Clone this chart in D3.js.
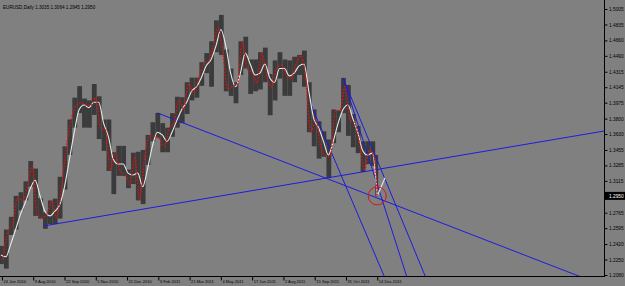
<!DOCTYPE html>
<html>
<head>
<meta charset="utf-8">
<script src="https://cdn.jsdelivr.net/npm/d3@7/dist/d3.min.js"></script>
<style>
  html, body { margin: 0; padding: 0; background: #808080; }
  svg { display: block; }
  text { font-family: "Liberation Sans", Arial, sans-serif; }
</style>
</head>
<body>
<svg id="chart" width="625" height="286"></svg>
<script>
// weekly bars, Jun 21 2010 .. Dec 14 2011 (day 0 = 22 Jun 2010)
const weekHigh = [1.2400,1.2580,1.2720,1.2950,1.2990,1.3110,1.3333,1.3250,1.2925,1.2770,
  1.2900,1.2920,1.3160,1.3495,1.3790,1.4030,1.4157,1.4020,1.4000,1.4180,
  1.4045,1.3790,1.3790,1.3430,1.3500,1.3500,1.3240,1.3425,1.3435,1.3455,
  1.3620,1.3760,1.3862,1.3750,1.3700,1.3860,1.4040,1.4035,1.4200,1.4250,
  1.4250,1.4420,1.4520,1.4650,1.4880,1.4940,1.4560,1.4350,1.4200,1.4650,
  1.4700,1.4450,1.4450,1.4530,1.4580,1.4290,1.4440,1.4530,1.4450,1.4440,
  1.4480,1.4500,1.4548,1.4200,1.3900,1.3770,1.3660,1.3570,1.3900,1.3890,
  1.4247,1.4170,1.3850,1.3720,1.3550,1.3550,1.3550,1.3400];
const weekLow = [1.2200,1.2150,1.2520,1.2580,1.2790,1.2900,1.3050,1.2730,1.2700,1.2588,
  1.2640,1.2640,1.2700,1.3020,1.3400,1.3700,1.3860,1.3700,1.3700,1.3840,
  1.3575,1.3445,1.3225,1.2969,1.3170,1.3170,1.3035,1.3080,1.2900,1.2860,
  1.3290,1.3550,1.3590,1.3430,1.3430,1.3600,1.3700,1.3750,1.3850,1.4000,
  1.4030,1.4160,1.4300,1.4150,1.4530,1.4500,1.4100,1.4050,1.3968,1.4280,
  1.4350,1.4071,1.4100,1.4120,1.4200,1.3837,1.4000,1.4240,1.4050,1.4050,
  1.4200,1.4280,1.4150,1.3650,1.3495,1.3360,1.3380,1.3146,1.3530,1.3650,
  1.3860,1.3610,1.3485,1.3420,1.3213,1.3300,1.3280,1.2945];
const weekClose = [1.2250,1.2560,1.2640,1.2930,1.2900,1.3050,1.3280,1.2750,1.2710,1.2750,
  1.2890,1.2710,1.3050,1.3490,1.3790,1.3950,1.3975,1.3950,1.3945,1.4030,
  1.3690,1.3670,1.3240,1.3420,1.3220,1.3185,1.3080,1.3380,1.2905,1.3380,
  1.3610,1.3610,1.3580,1.3495,1.3690,1.3750,1.4000,1.3905,1.4180,1.4085,
  1.4230,1.4400,1.4430,1.4590,1.4800,1.4530,1.4120,1.4155,1.4180,1.4640,
  1.4350,1.4300,1.4190,1.4520,1.4260,1.4150,1.4360,1.4390,1.4280,1.4235,
  1.4400,1.4490,1.4210,1.3650,1.3790,1.3500,1.3390,1.3380,1.3880,1.3890,
  1.4150,1.3790,1.3750,1.3520,1.3240,1.3450,1.3380,1.2950];
const whiteMA = [1.2300,1.2280,1.2420,1.2580,1.2750,1.2880,1.3030,1.3120,1.2950,1.2780,
  1.2730,1.2780,1.2850,1.3050,1.3350,1.3650,1.3900,1.3950,1.3920,1.3980,
  1.3980,1.3750,1.3600,1.3350,1.3300,1.3300,1.3200,1.3180,1.3200,1.3050,
  1.3250,1.3500,1.3650,1.3620,1.3550,1.3650,1.3780,1.3900,1.3980,1.4100,
  1.4150,1.4250,1.4380,1.4450,1.4600,1.4780,1.4600,1.4300,1.4150,1.4300,
  1.4520,1.4400,1.4280,1.4300,1.4400,1.4250,1.4200,1.4350,1.4350,1.4270,
  1.4300,1.4380,1.4400,1.4100,1.3800,1.3700,1.3550,1.3400,1.3550,1.3750,
  1.3900,1.3950,1.3800,1.3650,1.3450,1.3400,1.3420,1.2950];
const whiteEnd = [394, 1.3150];

const priceTicks = [1.5005,1.4835,1.4660,1.4490,1.4315,1.4145,1.3975,1.3800,1.3630,
  1.3455,1.3285,1.3115,1.2765,1.2595,1.2420,1.2250,1.2080];
const dateTickDays = [2,34,66,98,130,162,194,226,258,290,322,354,386];
const dateTickLabels = ["24 Jun 2010","9 Aug 2010","22 Sep 2010","5 Nov 2010","21 Dec 2010",
  "3 Feb 2011","21 Mar 2011","4 May 2011","17 Jun 2011","2 Aug 2011","15 Sep 2011",
  "31 Oct 2011","14 Dec 2011"];

// trend lines: [day, price] anchors, drawn as rays from the first anchor
const trendLines = [
  [[45, 1.2620], [334, 1.3146]],
  [[161, 1.3862], [386, 1.2926]],
  [[351, 1.4247], [435, 1.2069]],
  [[318, 1.3960], [393, 1.2069]],
  [[351, 1.4247], [416, 1.2069]]
];
const lastBar = { day: 386, price: 1.2950 };
const title = "EURUSD,Daily  1.3035 1.3064 1.2945 1.2950";

const W = 625, H = 286, plotR = 604, plotB = 276;
const svg = d3.select("#chart");

const x = d3.scaleLinear().domain([0, 618]).range([0, plotR]);
const y = d3.scaleLinear().domain([1.2080, 1.5005]).range([275, 9]);

svg.append("rect").attr("width", W).attr("height", H).attr("fill", "#808080");

svg.append("defs").append("clipPath").attr("id", "plot")
  .append("rect").attr("x", 0).attr("y", 0).attr("width", plotR).attr("height", plotB);

const plot = svg.append("g").attr("clip-path", "url(#plot)");

// bars
const weeks = d3.range(weekHigh.length);
const weekStart = w => Math.max(0, 5 * w - 1);
const weekEnd = w => Math.min(5 * w + 3, 386);
plot.append("g").selectAll("rect")
  .data(weeks)
  .join("rect")
  .attr("x", w => x(weekStart(w)))
  .attr("width", w => x(weekEnd(w)) - x(weekStart(w)) + 0.9)
  .attr("y", w => y(weekHigh[w]))
  .attr("height", w => y(weekLow[w]) - y(weekHigh[w]))
  .attr("fill", "#3b3b3b");

// trend lines
trendLines.forEach(([a, b]) => {
  const slope = (b[1] - a[1]) / (b[0] - a[0]);
  const endDay = 700;
  plot.append("line")
    .attr("x1", x(a[0])).attr("y1", y(a[1]))
    .attr("x2", x(endDay)).attr("y2", y(a[1] + slope * (endDay - a[0])))
    .attr("stroke", "#1c1ce0").attr("stroke-width", 1);
});

// white average
const whitePts = weeks.map(w => [Math.min(5 * w + 1, 386), whiteMA[w]]);
whitePts[whitePts.length - 1] = [386, whiteMA[whiteMA.length - 1]];
plot.append("path")
  .datum(whitePts)
  .attr("d", d3.line().x(d => x(d[0])).y(d => y(d[1])).curve(d3.curveMonotoneX))
  .attr("fill", "none").attr("stroke", "#e8e8e8").attr("stroke-width", 1.1);
plot.append("path")
  .datum([whitePts[whitePts.length - 1], whiteEnd])
  .attr("d", d3.line().x(d => x(d[0])).y(d => y(d[1])))
  .attr("fill", "none").attr("stroke", "#e8e8e8").attr("stroke-width", 1.1);

// red dotted average
const redPts = weeks.map(w => [weekEnd(w), weekClose[w]]);
plot.append("path")
  .datum(redPts)
  .attr("d", d3.line().x(d => x(d[0])).y(d => y(d[1])).curve(d3.curveMonotoneX))
  .attr("fill", "none").attr("stroke", "#e01010").attr("stroke-width", 1.4)
  .attr("stroke-dasharray", "1.6,1.6");

// circle at last bar
plot.append("circle")
  .attr("cx", x(lastBar.day)).attr("cy", y(lastBar.price)).attr("r", 9)
  .attr("fill", "none").attr("stroke", "#e01010").attr("stroke-width", 1);

// axes
const yAxis = d3.axisRight(y).tickValues(priceTicks).tickSize(3)
  .tickFormat(d3.format(".4f"));
const gy = svg.append("g").attr("transform", `translate(${plotR + 0.5},0)`).call(yAxis);
gy.select(".domain").attr("d", `M0,0V${plotB + 0.5}`).attr("stroke", "#000");
gy.selectAll(".tick line").attr("stroke", "#000");
gy.selectAll(".tick text").attr("x", 4.5).attr("fill", "#000")
  .style("font-size", "4.8px");

const xAxis = d3.axisBottom(x).tickValues(dateTickDays).tickSize(4)
  .tickFormat((d, i) => dateTickLabels[i]);
const gx = svg.append("g").attr("transform", `translate(0,${plotB + 0.5})`).call(xAxis);
gx.select(".domain").attr("d", `M0,0H${plotR + 1}`).attr("stroke", "#000");
gx.selectAll(".tick line").attr("stroke", "#000");
gx.selectAll(".tick text").attr("text-anchor", "start").attr("x", 1).attr("y", 4)
  .attr("fill", "#000").style("font-size", "4.1px");

// current price label
const cp = svg.append("g").attr("transform", `translate(${plotR + 1},${y(lastBar.price)})`);
cp.append("rect").attr("x", 0).attr("y", -4).attr("width", 20).attr("height", 8).attr("fill", "#000");
cp.append("text").attr("x", 4).attr("dy", "0.34em").attr("fill", "#fff")
  .style("font-size", "4.8px").text(d3.format(".4f")(lastBar.price));

// title
svg.append("text").attr("x", 3).attr("y", 9).attr("fill", "#000")
  .style("font-size", "4.6px").text(title);
</script>
</body>
</html>
